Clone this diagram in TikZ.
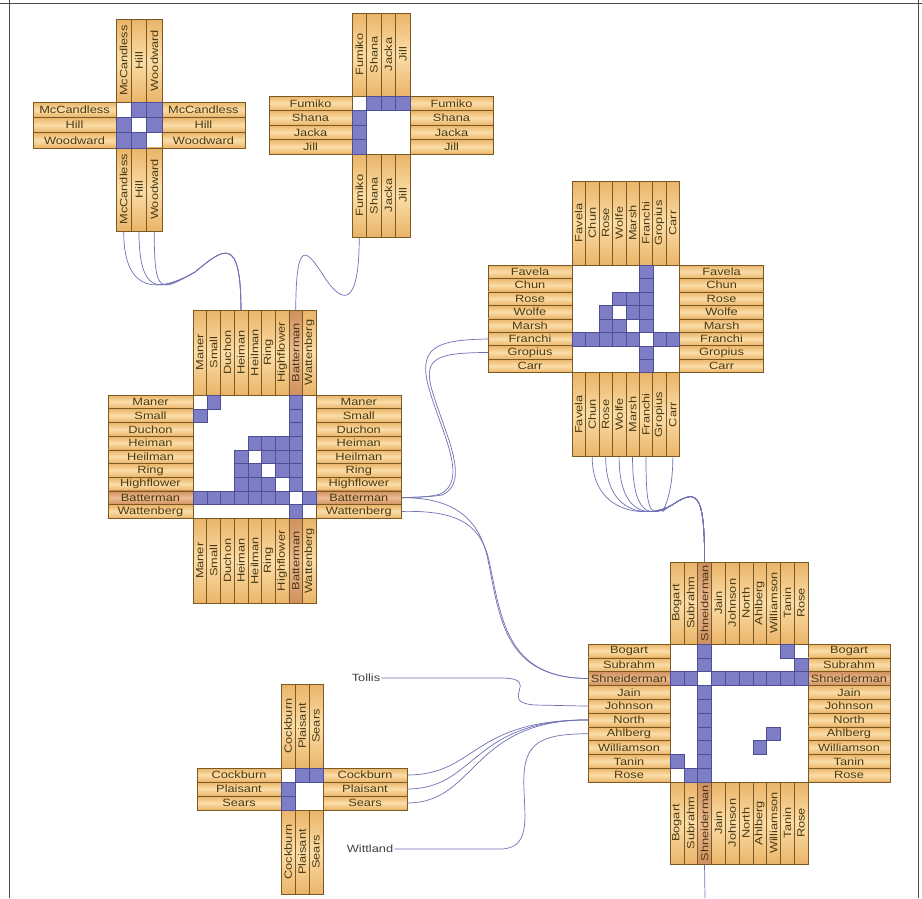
\documentclass[tikz,border=0pt]{standalone}
\usepackage{fontspec}
\newfontfamily\labf[FakeStretch=1.22]{Liberation Sans}
\usetikzlibrary{backgrounds}
\definecolor{cellor}{HTML}{EAB468}
\definecolor{cellmid}{HTML}{FBDDA8}
\definecolor{celledge}{HTML}{7A5A22}
\definecolor{hlor}{HTML}{D0905E}
\definecolor{hlmid}{HTML}{ECBC92}
\definecolor{purp}{HTML}{7E7EC6}
\definecolor{purpedge}{HTML}{4E4E96}
\definecolor{labtxt}{HTML}{4A3A12}
\definecolor{edgec}{HTML}{7070B4}
\tikzset{
  lab/.style={draw=celledge, line width=0.6pt, inner sep=0pt,
    font=\labf\fontsize{10.5}{10}\selectfont, text=labtxt},
  pcell/.style={fill=purp, draw=purpedge, line width=0.4pt},
  link/.style={draw=edgec, line width=0.7pt},
  free/.style={font=\labf\fontsize{10.5}{10}\selectfont, text=black!75, inner sep=1pt},
  frame/.style={draw=black!70, line width=0.8pt},
}
% #1 name, #2 x0, #3 y0, #4 n, #5 cell size, #6 label length, #7 labels, #8 highlighted index
\newcommand\nmat[8]{%
  \draw[celledge, line width=0.6pt, fill=white] (#2,#3) rectangle ++({#4*#5},{#4*#5});
  \foreach \lab [count=\i from 0] in {#7} {%
    \ifnum\i=#8 \def\oc{hlor}\def\mc{hlmid}\else\def\oc{cellor}\def\mc{cellmid}\fi
    \node[lab, top color=\oc, bottom color=\oc, middle color=\mc,
      minimum width=#6 pt, minimum height=#5 pt]
      (#1-l\i) at ({#2-#6/2},{#3+(\i+0.5)*#5}) {\lab};
    \node[lab, top color=\oc, bottom color=\oc, middle color=\mc,
      minimum width=#6 pt, minimum height=#5 pt]
      (#1-r\i) at ({#2+#4*#5+#6/2},{#3+(\i+0.5)*#5}) {\lab};
    \node[lab, rotate=90, top color=\oc, bottom color=\oc, middle color=\mc,
      minimum width=#6 pt, minimum height=#5 pt]
      (#1-t\i) at ({#2+(\i+0.5)*#5},{#3-#6/2}) {\lab};
    \node[lab, rotate=90, top color=\oc, bottom color=\oc, middle color=\mc,
      minimum width=#6 pt, minimum height=#5 pt]
      (#1-b\i) at ({#2+(\i+0.5)*#5},{#3+#4*#5+#6/2}) {\lab};
    \coordinate (#1-ll\i) at ({#2-#6},{#3+(\i+0.5)*#5});
    \coordinate (#1-rr\i) at ({#2+#4*#5+#6},{#3+(\i+0.5)*#5});
    \coordinate (#1-tt\i) at ({#2+(\i+0.5)*#5},{#3-#6});
    \coordinate (#1-bb\i) at ({#2+(\i+0.5)*#5},{#3+#4*#5+#6});
  }%
}
% #1 x0, #2 y0, #3 cell size, #4 list r/c
\newcommand\pcells[4]{%
  \foreach \r/\c in {#4} {%
    \draw[pcell] ({#1+\c*#3},{#2+\r*#3}) rectangle ++(#3,#3);
    \draw[pcell] ({#1+\r*#3},{#2+\c*#3}) rectangle ++(#3,#3);
  }%
}
\begin{document}
\begin{tikzpicture}[x=1pt,y=-1pt]
\useasboundingbox (0,0) rectangle (922,898);

% --- matrices ---
\nmat{A}{116}{102}{3}{15.3}{83}{McCandless,Hill,Woodward}{-1}
\pcells{116}{102}{15.3}{0/1,0/2,1/2}

\nmat{B}{352}{96}{4}{14.5}{83}{Fumiko,Shana,Jacka,Jill}{-1}
\pcells{352}{96}{14.5}{0/1,0/2,0/3}

\nmat{C}{193}{395}{9}{13.7}{85}{Maner,Small,Duchon,Heiman,Heilman,Ring,Highflower,Batterman,Wattenberg}{7}
\pcells{193}{395}{13.7}{0/1,7/0,7/1,7/2,7/3,7/4,7/5,7/6,7/8,3/4,3/5,3/6,4/5,4/6,5/6}

\nmat{D}{572}{265}{8}{13.45}{84}{Favela,Chun,Rose,Wolfe,Marsh,Franchi,Gropius,Carr}{-1}
\pcells{572}{265}{13.45}{5/0,5/1,5/2,5/3,5/4,5/6,5/7,2/3,2/4,3/4}

\nmat{E}{670}{644}{10}{13.8}{82}{Bogart,Subrahm,Shneiderman,Jain,Johnson,North,Ahlberg,Williamson,Tanin,Rose}{2}
\pcells{670}{644}{13.8}{2/0,2/1,2/3,2/4,2/5,2/6,2/7,2/8,2/9,0/8,1/9,6/7}

\nmat{F}{281}{768}{3}{14}{84}{Cockburn,Plaisant,Sears}{-1}
\pcells{281}{768}{14}{0/1,0/2}

% --- free labels ---
\node[free] (tol) at (366,678) {Tollis};
\node[free] (wit) at (370,849) {Wittland};
\coordinate (ebot) at (705,898);

% --- frame and connectors (behind) ---
\begin{pgfonlayer}{background}
\fill[white] (0,0) rectangle (922,898);
\draw[frame] (9,0) -- (9,898);
\draw[frame] (0,3) -- (922,3);
\draw[frame] (918,0) -- (918,898);

\foreach \k in {0,1,2}
  \draw[link] (A-bb\k) .. controls +(0,65) and (160,292) .. (195,272)
     .. controls (222,250) and (241,232) .. (C-tt3);
\draw[link] (B-bb0) .. controls +(0,65) and (345,308) .. (325,278)
     .. controls (307,250) and (296,235) .. (C-tt7);

\draw[link] (D-ll5) .. controls (440,340) and (418,345) .. (428,385)
     .. controls (440,430) and (470,480) .. (440,494) .. controls (430,497) and (420,497) .. (C-rr7);
\draw[link] (D-ll6) .. controls (440,353) and (422,356) .. (432,390)
     .. controls (444,432) and (472,482) .. (442,495) .. controls (430,497) and (420,497) .. (C-rr7);

\draw[link] (C-rr7) .. controls (455,497) and (480,520) .. (488,560)
     .. controls (500,620) and (505,678) .. (E-ll2);
\draw[link] (C-rr8) .. controls (460,510) and (482,525) .. (490,565)
     .. controls (502,625) and (510,678) .. (E-ll2);

\foreach \k in {1,2,3,4,5,7}
  \draw[link] (D-bb\k) .. controls +(0,60) and (650,518) .. (672,505)
     .. controls (695,490) and (705,488) .. (E-tt2);

\draw[link] (tol.east) -- (500,678) .. controls (545,678) and (495,702) .. (535,705) -- (E-ll4);

\foreach \k in {0,1,2}
  \draw[link] (F-rr\k) .. controls +(70,0) and (470,720) .. (E-ll5);

\draw[link] (wit.east) -- (500,849) .. controls (530,849) and (525,820) .. (524,790)
     .. controls (522,745) and (535,734) .. (E-ll6);

\draw[link] (E-bb2) -- (ebot);
\end{pgfonlayer}
\end{tikzpicture}
\end{document}
